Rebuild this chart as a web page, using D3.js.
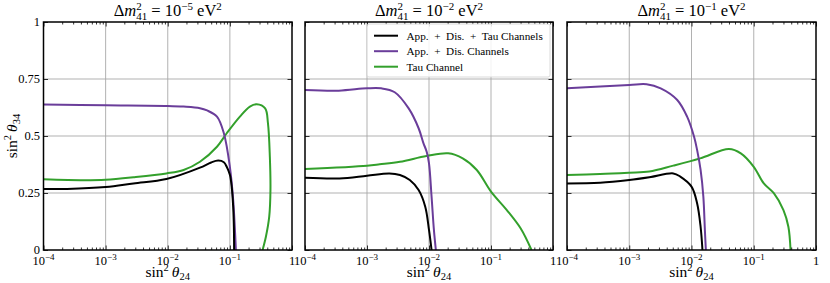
<!DOCTYPE html>
<html>
<head>
<meta charset="utf-8">
<script src="https://cdn.jsdelivr.net/npm/d3@7"></script>
<style>
  body { margin: 0; background: #fff; }
</style>
</head>
<body>
<div id="chart"></div>
<script>
// mass splittings (exponent of 10) per panel
const dm2Exponents = [-5, -2, -1];

// x tick values and y tick values
const xTicks = [1e-4, 1e-3, 1e-2, 1e-1, 1];
const xTickExp = [-4, -3, -2, -1, 0];
const yTicks = [0, 0.25, 0.5, 0.75, 1];
const yTickLabels = ["0", "0.25", "0.5", "0.75", "1"];

const seriesNames = ["App. + Dis. + Tau Channels", "App. + Dis. Channels", "Tau Channel"];
const seriesColors = ["#000000", "#6a3d9a", "#33a02c"];

// [sin^2 theta24, sin^2 theta34]
const combined1 = [[1e-4,0.268],[2.4e-4,0.268],[1e-3,0.276],[2.8e-3,0.292],[9.5e-3,0.311],[0.033,0.361],[0.05,0.384],[0.065,0.392],[0.08,0.385],[0.089,0.365],[0.1,0.33],[0.107,0.278],[0.113,0.19],[0.116,0.1],[0.117,0]];
const appDis1 = [[1e-4,0.638],[1e-3,0.635],[1e-2,0.632],[0.018,0.629],[0.033,0.622],[0.043,0.612],[0.062,0.585],[0.08,0.512],[0.1,0.365],[0.113,0.22],[0.12,0.1],[0.125,0]];
const tau1 = [[1e-4,0.31],[4.4e-4,0.306],[1e-3,0.308],[2.8e-3,0.319],[9.5e-3,0.336],[0.018,0.351],[0.033,0.387],[0.062,0.453],[0.089,0.512],[0.145,0.585],[0.21,0.629],[0.27,0.639],[0.37,0.621],[0.41,0.556],[0.44,0.409],[0.45,0.263],[0.43,0.146],[0.38,0.058],[0.336,0]];

const combined2 = [[1e-4,0.317],[3.6e-4,0.314],[1e-3,0.326],[2.3e-3,0.336],[3.4e-3,0.329],[4.9e-3,0.307],[6.8e-3,0.263],[8.7e-3,0.19],[0.01,0.088],[0.011,0]];
const appDis2 = [[1e-4,0.702],[3.5e-4,0.699],[1e-3,0.709],[1.7e-3,0.709],[2.8e-3,0.692],[4.7e-3,0.621],[6.8e-3,0.534],[8.1e-3,0.47],[9.2e-3,0.43],[0.01,0.38],[0.011,0.234],[0.012,0.088],[0.0129,0]];
const tau2 = [[1e-4,0.355],[1e-3,0.37],[1.6e-3,0.376],[3.4e-3,0.387],[9.1e-3,0.412],[0.0204,0.424],[0.035,0.402],[0.059,0.351],[0.1,0.256],[0.18,0.175],[0.3,0.095],[0.45,0]];

const combined3 = [[1e-4,0.292],[3.4e-4,0.295],[1e-3,0.307],[2.1e-3,0.319],[5.1e-3,0.336],[6.6e-3,0.322],[1e-2,0.278],[0.0123,0.205],[0.014,0.102],[0.015,0]];
const appDis3 = [[1e-4,0.709],[1e-3,0.724],[1.9e-3,0.727],[3.2e-3,0.709],[5.9e-3,0.658],[8.5e-3,0.585],[0.011,0.497],[0.0123,0.439],[0.014,0.351],[0.0155,0.234],[0.0164,0.088],[0.017,0]];
const tau3 = [[1e-4,0.329],[3.4e-4,0.333],[1e-3,0.339],[2.1e-3,0.344],[5.1e-3,0.37],[0.0138,0.402],[0.04,0.443],[0.062,0.424],[0.1,0.365],[0.145,0.292],[0.21,0.249],[0.3,0.175],[0.36,0.102],[0.39,0]];

const panelSeries = [
    [combined1, appDis1, tau1],
    [combined2, appDis2, tau2],
    [combined3, appDis3, tau3]
];

const width = 830, height = 283;
const panelX = [[43.5, 292], [305, 553], [567, 816]];
const plotTop = 22, plotBottom = 250;
const serif = '"Liberation Serif", "DejaVu Serif", serif';

const svg = d3.select('#chart').append('svg')
    .attr('width', width)
    .attr('height', height)
    .attr('font-family', serif)
    .style('display', 'block');

const y = d3.scaleLinear().domain([0, 1]).range([plotBottom, plotTop]);

const minorTicks = [];
for (let e = -4; e < 0; e++) {
    for (let k = 2; k <= 9; k++) minorTicks.push(k * Math.pow(10, e));
}

// math-ish label: sin^2 theta_sub
const sinLabel = (t, sub) => {
    t.append('tspan').text('sin');
    t.append('tspan').attr('dy', -6).attr('font-size', 10.5).text('2');
    t.append('tspan').attr('dx', 3).attr('dy', 6).attr('font-style', 'italic').text('\u03b8');
    t.append('tspan').attr('dy', 3).attr('font-size', 10.5).text(sub);
};

panelSeries.forEach((series, p) => {
    const x = d3.scaleLog().domain([1e-4, 1]).range(panelX[p]);
    const g = svg.append('g');

    // grid
    g.selectAll('.vgrid')
        .data(xTicks.slice(1, -1))
      .enter().append('line')
        .attr('x1', d => x(d)).attr('x2', d => x(d))
        .attr('y1', plotTop).attr('y2', plotBottom)
        .attr('stroke', '#a8a8a8').attr('stroke-width', 0.9);
    g.selectAll('.hgrid')
        .data(yTicks.slice(1, -1))
      .enter().append('line')
        .attr('x1', panelX[p][0]).attr('x2', panelX[p][1])
        .attr('y1', d => y(d)).attr('y2', d => y(d))
        .attr('stroke', '#a8a8a8').attr('stroke-width', 0.9);

    // curves
    const line = d3.line()
        .x(d => x(d[0]))
        .y(d => y(d[1]))
        .curve(d3.curveCatmullRom.alpha(0.5));

    const clipId = 'clip' + p;
    svg.append('clipPath').attr('id', clipId)
      .append('rect')
        .attr('x', panelX[p][0]).attr('y', plotTop)
        .attr('width', panelX[p][1] - panelX[p][0]).attr('height', plotBottom - plotTop);

    [2, 1, 0].forEach(i => {
        g.append('path')
            .datum(series[i])
            .attr('clip-path', `url(#${clipId})`)
            .attr('fill', 'none')
            .attr('stroke', seriesColors[i])
            .attr('stroke-width', 2)
            .attr('d', line);
    });

    // ticks (inward) on all four sides
    const xMaj = 4.5, xMin = 2.5;
    g.append('g').attr('transform', `translate(0,${plotBottom})`)
        .call(d3.axisBottom(x).tickValues(xTicks).tickSize(-xMaj).tickFormat(''))
        .call(a => a.select('.domain').remove());
    g.append('g').attr('transform', `translate(0,${plotBottom})`)
        .call(d3.axisBottom(x).tickValues(minorTicks).tickSize(-xMin).tickFormat(''))
        .call(a => a.select('.domain').remove());
    g.append('g').attr('transform', `translate(0,${plotTop})`)
        .call(d3.axisTop(x).tickValues(xTicks).tickSize(-xMaj).tickFormat(''))
        .call(a => a.select('.domain').remove());
    g.append('g').attr('transform', `translate(0,${plotTop})`)
        .call(d3.axisTop(x).tickValues(minorTicks).tickSize(-xMin).tickFormat(''))
        .call(a => a.select('.domain').remove());
    g.append('g').attr('transform', `translate(${panelX[p][0]},0)`)
        .call(d3.axisLeft(y).tickValues(yTicks).tickSize(-xMaj).tickFormat(''))
        .call(a => a.select('.domain').remove());
    g.append('g').attr('transform', `translate(${panelX[p][1]},0)`)
        .call(d3.axisRight(y).tickValues(yTicks).tickSize(-xMaj).tickFormat(''))
        .call(a => a.select('.domain').remove());
    g.selectAll('.tick line').attr('stroke', '#000').attr('stroke-width', 0.8);

    // frame
    g.append('rect')
        .attr('x', panelX[p][0]).attr('y', plotTop)
        .attr('width', panelX[p][1] - panelX[p][0]).attr('height', plotBottom - plotTop)
        .attr('fill', 'none').attr('stroke', '#000').attr('stroke-width', 1.5);

    // x tick labels
    xTicks.forEach((v, i) => {
        const t = g.append('text')
            .attr('x', x(v)).attr('y', 265)
            .attr('text-anchor', 'middle')
            .attr('font-size', 12.5);
        if (xTickExp[i] === 0) {
            t.text('1');
        } else {
            t.append('tspan').text('10');
            t.append('tspan').attr('dy', -5).attr('font-size', 9).text('\u2212' + Math.abs(xTickExp[i]));
        }
    });

    // x label
    const xl = g.append('text')
        .attr('x', (panelX[p][0] + panelX[p][1]) / 2).attr('y', 277)
        .attr('text-anchor', 'middle')
        .attr('font-size', 15.5);
    sinLabel(xl, '24');

    // title
    const tt = g.append('text')
        .attr('x', (panelX[p][0] + panelX[p][1]) / 2).attr('y', 15.5)
        .attr('text-anchor', 'middle')
        .attr('font-size', 16.5);
    tt.append('tspan').text('\u0394');
    tt.append('tspan').attr('font-style', 'italic').text('m');
    tt.append('tspan').attr('dy', -6).attr('font-size', 11).text('2');
    tt.append('tspan').attr('dx', -5.5).attr('dy', 10).attr('font-size', 11).text('41');
    tt.append('tspan').attr('dy', -4).text(' = 10');
    tt.append('tspan').attr('dy', -6).attr('font-size', 11).text('\u2212' + Math.abs(dm2Exponents[p]));
    tt.append('tspan').attr('dy', 6).text(' eV');
    tt.append('tspan').attr('dy', -6).attr('font-size', 11).text('2');
});

// y tick labels (first panel only)
svg.selectAll('.ylab')
    .data(yTicks)
  .enter().append('text')
    .attr('x', 40).attr('y', d => y(d) + 4)
    .attr('text-anchor', 'end')
    .attr('font-size', 12.5)
    .text((d, i) => yTickLabels[i]);

// y label
const yl = svg.append('text')
    .attr('transform', `translate(17,${(plotTop + plotBottom) / 2}) rotate(-90)`)
    .attr('text-anchor', 'middle')
    .attr('font-size', 15.5);
sinLabel(yl, '34');

// legend in middle panel
const lg = svg.append('g');
lg.append('rect')
    .attr('x', 367).attr('y', 24).attr('width', 183).attr('height', 53)
    .attr('rx', 2)
    .attr('fill', '#fff').attr('fill-opacity', 0.85)
    .attr('stroke', '#d0d0d0').attr('stroke-width', 0.8);
seriesNames.forEach((name, i) => {
    const ly = 35.7 + i * 15.5;
    lg.append('line')
        .attr('x1', 374).attr('x2', 398)
        .attr('y1', ly).attr('y2', ly)
        .attr('stroke', seriesColors[i]).attr('stroke-width', 2);
    lg.append('text')
        .attr('x', 406.5).attr('y', ly + 3.8)
        .attr('font-size', 11.2)
        .attr('xml:space', 'preserve')
        .text(name.replace(/\+/g, ' + '));
});
</script>
</body>
</html>
